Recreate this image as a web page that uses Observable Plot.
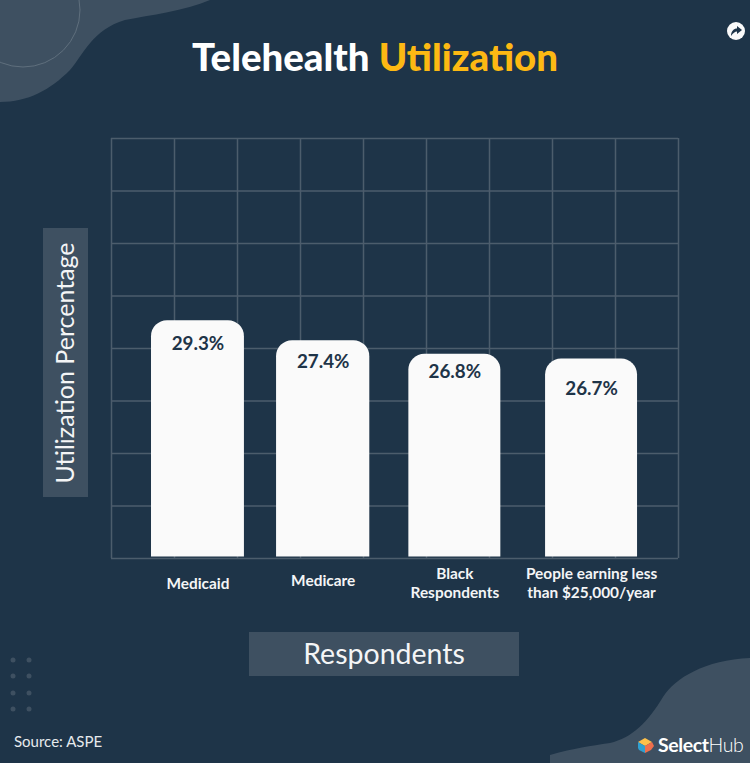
<!DOCTYPE html>
<html>
<head>
<meta charset="utf-8">
<script src="https://cdn.jsdelivr.net/npm/d3@7"></script>
<script src="https://cdn.jsdelivr.net/npm/@observablehq/plot@0.6"></script>
<style>
html,body{margin:0;padding:0;background:#1e3448;}
#page{position:relative;width:750px;height:763px;overflow:hidden;background:#1e3448;font-family:Lato,sans-serif;}
#page>svg{position:absolute;left:0;top:0;}
#plot svg{position:absolute;left:0;top:0;background:transparent;}
.title{position:absolute;left:0;top:31px;width:750px;text-align:center;font:900 38.4px/50px Lato,sans-serif;color:#fff;}
.title span{color:#fdb913;}
.axisbox{position:absolute;background:#3e5061;color:#f4f5f6;display:flex;align-items:center;justify-content:center;font:400 28.5px Lato,sans-serif;}
#ylab{left:43px;top:228px;width:45px;height:269px;}
#ylab span{display:block;transform:translateX(-2px) rotate(-90deg);white-space:nowrap;font-size:25px;}
#xlab{left:249px;top:632px;width:270px;height:44px;padding-bottom:2px;box-sizing:border-box;}
.source{position:absolute;left:14px;top:731px;font:400 15px/20px Lato,sans-serif;color:#e6eaed;}
.brand{position:absolute;left:658px;top:732px;font:700 19.500px/26px Lato,sans-serif;color:#fff;letter-spacing:-.4px;}
.brand i{font-style:normal;font-weight:300;}
</style>
</head>
<body>
<div id="page">
<svg width="750" height="763" aria-hidden="true">
  <path d="M0 102 C28 102 50 90 70 70 C84 54 92 30 125 20 C150 15 185 11 210 0 L0 0 Z" fill="#3e5061"/>
  <circle cx="23" cy="10" r="57" fill="none" stroke="#5f6f7d" stroke-width="1"/>
  <path d="M550 755 C575 748 590 746 610 743 C632 738 648 722 663 697 C675 678 705 660 750 658 L750 763 L550 763 Z" fill="#3e5061"/>
  <g fill="#3e5061">
    <circle cx="13" cy="660" r="2.5"/><circle cx="29" cy="660" r="2.5"/>
    <circle cx="13" cy="676" r="2.5"/><circle cx="29" cy="676" r="2.5"/>
    <circle cx="13" cy="693" r="2.5"/><circle cx="29" cy="693" r="2.5"/>
    <circle cx="13" cy="709" r="2.5"/><circle cx="29" cy="709" r="2.5"/>
  </g>
  <circle cx="736" cy="31" r="9" fill="#fafafa"/>
  <path d="M731 36 C731 31 734 28.500 737 28.500 L737 26 L742 30 L737 34 L737 31.500 C735 31.500 733 33 731 36 Z" fill="#1e3448"/>
  <path d="M638 742 L645 738 L652 742 L645 746 Z" fill="#fdc04a"/>
  <path d="M638 742 L645 746 L645 753 L639 750 L638 748 Z" fill="#2f9fd0"/>
  <path d="M652 742 L645 746 L645 753 L651 750 L654 746 Z" fill="#ee6f4d"/>
</svg>
<div class="title">Telehealth <span>Utilization</span></div>
<div id="plot"></div>
<div class="axisbox" id="ylab"><span>Utilization Percentage</span></div>
<div class="axisbox" id="xlab">Respondents</div>
<div class="source">Source: ASPE</div>
<div class="brand">Select<i>Hub</i></div>
</div>
<script>
// Chart values
const categories = ["Medicaid", "Medicare", "Black\nRespondents", "People earning less\nthan $25,000/year"];
const percentLabels = ["29.3%", "27.4%", "26.8%", "26.7%"];
// The original's bars are hand-drawn: their heights (in grid rows),
// and their left/right edges (in grid columns), do not follow the printed percentages exactly.
const barTops = [4.53, 4.15, 3.89, 3.80];
const barLeft = [0.635, 2.62, 4.72, 6.89];
const barRight = [2.11, 4.10, 6.18, 8.35];
const labelDrop = [0.44, 0.40, 0.34, 0.58];
const categoryRow = [-0.47, -0.41, -0.46, -0.46];
const gridColumns = [0,1,2,3,4,5,6,7,8,9];
const gridRows = [0,1,2,3,4,5,6,7,8];

const bars = categories.map((name, i) => ({
  name, label: percentLabels[i], top: barTops[i],
  x1: barLeft[i], x2: barRight[i],
  mid: (barLeft[i] + barRight[i]) / 2,
  labelY: barTops[i] - labelDrop[i], catY: categoryRow[i]
}));

const chart = Plot.plot({
  width: 750, height: 763, margin: 0,
  style: {background: "transparent", fontFamily: "Lato, sans-serif"},
  x: {type: "linear", domain: [0, 9], range: [111, 678], axis: null},
  y: {type: "linear", domain: [0, 8], range: [558, 138], axis: null},
  marks: [
    Plot.ruleX(gridColumns, {x: d => d, y1: 0, y2: 8, stroke: "#4c5d6c", strokeWidth: 1.5}),
    Plot.ruleY(gridRows, {y: d => d, x1: 0, x2: 9, stroke: "#4c5d6c", strokeWidth: 1.5}),
    Plot.rect(bars, {x1: "x1", x2: "x2", y1: 0.03, y2: "top", fill: "#fafafa", rx1y2: 16, rx2y2: 16}),
    Plot.text(bars, {x: "mid", y: "labelY", text: "label", fill: "#1e3448", fontSize: 18.8, fontWeight: 700}),
    Plot.text(bars, {x: "mid", y: "catY", text: "name", fill: "#f4f5f6", fontSize: 15.4, fontWeight: 700, lineHeight: 1.24})
  ]
});
document.getElementById("plot").appendChild(chart);
</script>
</body>
</html>
